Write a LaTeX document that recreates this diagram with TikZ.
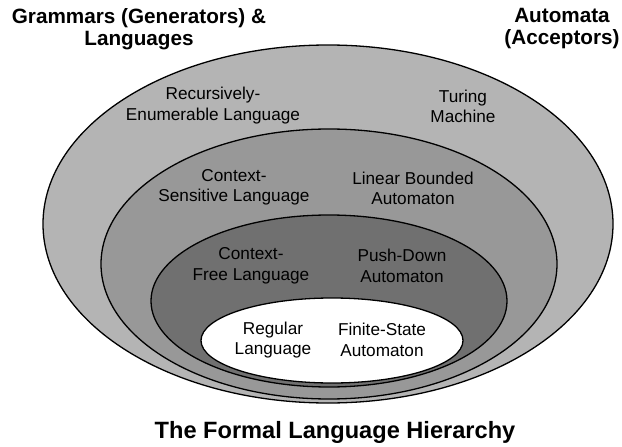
\documentclass[tikz,border=0pt]{standalone}
\usepackage{fontspec}
\setmainfont{Liberation Sans}
\tikzset{
  ring/.style={draw=black, line width=1.3pt},
  lbl/.style={align=center, inner sep=0pt, font=\fontsize{17.2}{20.5}\selectfont},
  head/.style={align=center, inner sep=0pt, font=\fontsize{20.7}{22}\selectfont\bfseries},
}
\definecolor{gOne}{RGB}{180,180,180}
\definecolor{gTwo}{RGB}{152,152,152}
\definecolor{gThree}{RGB}{112,112,112}
\begin{document}
\begin{tikzpicture}[x=1pt,y=-1pt]
\useasboundingbox (0,0) rectangle (622,447);
\fill[white] (0,0) rectangle (622,447);
% nested ellipses
\filldraw[ring, fill=gOne]   (328,224)   ellipse [x radius=285pt, y radius=179pt];
\filldraw[ring, fill=gTwo]   (329,264)   ellipse [x radius=228pt, y radius=135pt];
\filldraw[ring, fill=gThree] (329,301)   ellipse [x radius=178pt, y radius=86pt];
\filldraw[ring, fill=white]  (332,340.5) ellipse [x radius=131pt, y radius=42.5pt];
% headings
\node[head] (gram) at (139,29) {Grammars (Generators) \&\\Languages};
\node[head] (auto) at (562,29) {Automata\\(Acceptors)};
% labels
\node[lbl] (re)  at (213,105.5) {Recursively-\\Enumerable Language};
\node[lbl] (tm)  at (463,106.5) {Turing\\Machine};
\node[lbl] (cs)  at (234,187.5) {Context-\\Sensitive Language};
\node[lbl] (lba) at (413,188.5) {Linear Bounded\\Automaton};
\node[lbl] (cf)  at (251,266) {Context-\\Free Language};
\node[lbl] (pda) at (402,266) {Push-Down\\Automaton};
\node[lbl] (rl)  at (273,340) {Regular\\Language};
\node[lbl] (fsa) at (382,340) {Finite-State\\Automaton};
% title
\node[inner sep=0pt, font=\fontsize{23.6}{26}\selectfont\bfseries] (title) at (335,432) {The Formal Language Hierarchy};
\end{tikzpicture}
\end{document}
